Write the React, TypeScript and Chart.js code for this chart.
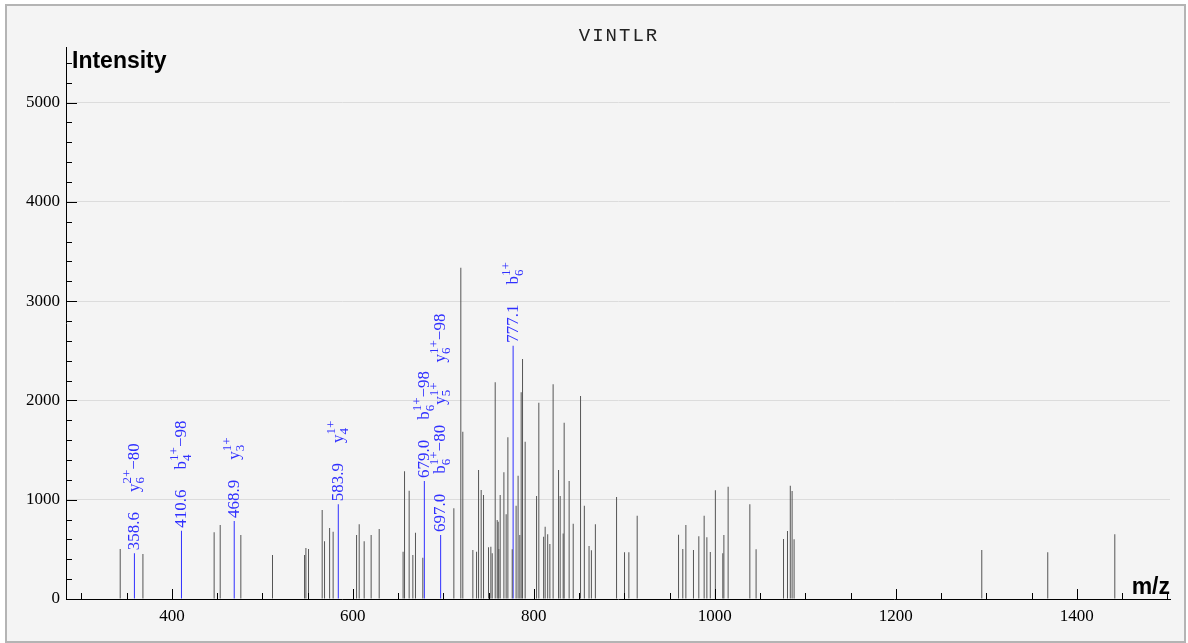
import React, { useEffect, useRef } from 'react';
import { Chart, registerables } from 'chart.js';

Chart.register(...registerables);

const TITLE = 'VINTLR';
const X_LABEL = 'm/z';
const Y_LABEL = 'Intensity';
const X_MIN = 283;
const X_MAX = 1503;
const Y_MIN = 0;
const Y_MAX = 5560;
const xTickValues = [400, 600, 800, 1000, 1200, 1400];
const yTickValues = [0, 1000, 2000, 3000, 4000, 5000];
const X_MINOR_STEP = 50;
const Y_MINOR_STEP = 200;

// unmatched peaks (grey)
const peakMz = [
  342.9, 368.0, 446.7, 453.4, 476.2, 511.2,
  546.6, 548.1, 551.0, 566.1, 568.7, 574.3, 578.2, 604.1, 607.0, 612.5, 620.2, 629.1,
  655.5, 657.1, 662.2, 666.3, 669.2, 677.3,
  711.6, 719.3, 721.5, 732.6, 736.7, 738.9, 741.8, 744.4, 749.9, 752.5, 754.0, 757.3,
  759.5, 760.6, 761.3, 762.8, 766.9, 769.4, 771.3, 776.1, 780.4, 782.6, 784.5, 786.0,
  787.5, 790.4, 803.0, 805.5, 810.8, 812.5, 815.3, 817.7, 821.3, 827.3, 829.1, 832.4,
  833.5, 839.0, 843.5, 851.6, 855.8, 861.0, 863.6, 868.0, 891.4, 900.2, 905.0, 914.2,
  959.9, 964.6, 968.0, 976.4, 982.3, 988.2, 991.2, 995.0, 1000.6, 1008.8, 1010.0, 1014.7,
  1038.7, 1045.6, 1075.9, 1080.3, 1083.4, 1085.4, 1087.6, 1295.0, 1367.9, 1442.0,
];
const peakIntensity = [
  503, 453, 672, 745, 645, 443,
  443, 513, 503, 896, 581, 715, 678, 645, 752, 581, 645, 705,
  476, 1286, 1091, 443, 668, 416,
  913, 3336, 1685, 493, 476, 1299, 1098, 1047, 520, 527, 460, 2182,
  796, 779, 503, 1047, 1276, 853, 1628, 500, 940, 1242, 645, 2082,
  2417, 1584, 1037, 1977, 627, 728, 652, 554, 2162, 1299, 1037, 661,
  1775, 1188, 758, 2044, 940, 534, 490, 752, 1027, 470, 470, 839,
  648, 503, 745, 493, 631, 839, 621, 473, 1095, 460, 645, 1131,
  954, 500, 604, 685, 1141, 1088, 601, 493, 470, 652,
];

// matched (annotated) peaks (blue)
const matchedMz = [358.6, 410.6, 468.9, 583.9, 679.0, 697.0, 777.1];
const matchedIntensity = [460, 688, 785, 954, 1188, 645, 2551];
// each ion: [ion letter, subscript, superscript, neutral loss]
const matchedIons = [
  [['y', '6', '2+', '−80']],
  [['b', '4', '1+', '−98']],
  [['y', '3', '1+', '']],
  [['y', '4', '1+', '']],
  [['b', '6', '1+', '−98']],
  [['b', '6', '1+', '−80'], ['y', '5', '1+', ''], ['y', '6', '1+', '−98']],
  [['b', '6', '1+', '']],
];

const GREY = '#555555';
const BLUE = 'rgb(48,48,255)';
const SERIF = '"Liberation Serif", "Times New Roman", serif';
const SANS = '"Liberation Sans", Arial, sans-serif';
const MONO = '"Liberation Mono", "Courier New", monospace';

const overlay = {
  id: 'overlay',
  afterDraw(chart: any) {
    const { ctx, chartArea: a } = chart;
    const xs = chart.scales.x;
    const ys = chart.scales.y;
    ctx.save();

    // inward tick marks
    ctx.strokeStyle = '#000';
    ctx.lineWidth = 1;
    ctx.beginPath();
    for (let v = Math.ceil(X_MIN / X_MINOR_STEP) * X_MINOR_STEP; v <= X_MAX; v += X_MINOR_STEP) {
      const px = Math.round(xs.getPixelForValue(v)) + 0.5;
      const len = xTickValues.includes(v) ? 10 : 6;
      ctx.moveTo(px, a.bottom);
      ctx.lineTo(px, a.bottom - len);
    }
    for (let v = Y_MIN + Y_MINOR_STEP; v <= Y_MAX; v += Y_MINOR_STEP) {
      const py = Math.round(ys.getPixelForValue(v)) + 0.5;
      const len = yTickValues.includes(v) ? 11 : 6;
      ctx.moveTo(a.left, py);
      ctx.lineTo(a.left + len, py);
    }
    ctx.stroke();

    // title
    ctx.fillStyle = '#222';
    ctx.font = `19px ${MONO}`;
    ctx.textAlign = 'center';
    ctx.textBaseline = 'alphabetic';
    try {
      (ctx as any).letterSpacing = '2px';
    } catch (e) {}
    ctx.fillText(TITLE, (a.left + a.right) / 2 + 1, a.top - 6);
    try {
      (ctx as any).letterSpacing = '0px';
    } catch (e) {}

    // axis titles
    ctx.fillStyle = '#000';
    ctx.font = `bold 23px ${SANS}`;
    ctx.textAlign = 'left';
    ctx.fillText(Y_LABEL, a.left + 6, a.top + 21);
    ctx.textAlign = 'right';
    ctx.fillText(X_LABEL, a.right, a.bottom - 5);

    // annotations
    ctx.fillStyle = BLUE;
    ctx.textAlign = 'left';
    const BIG = 17;
    const SMALL = 13;
    const GAP = 20;
    matchedMz.forEach((mz, i) => {
      const px = xs.getPixelForValue(mz);
      const py = ys.getPixelForValue(matchedIntensity[i]);
      ctx.save();
      ctx.translate(px, py - 3);
      ctx.rotate(-Math.PI / 2);
      let u = 0;
      ctx.font = `${BIG}px ${SERIF}`;
      const num = mz.toFixed(1);
      ctx.fillText(num, u, 4.5);
      u += ctx.measureText(num).width + GAP;
      matchedIons[i].forEach((ion) => {
        const [letter, sub, sup, loss] = ion;
        ctx.font = `${BIG}px ${SERIF}`;
        ctx.fillText(letter, u, 4.5);
        u += ctx.measureText(letter).width;
        ctx.font = `${SMALL}px ${SERIF}`;
        ctx.fillText(sup, u, -3);
        ctx.fillText(sub, u, 9.5);
        u += Math.max(ctx.measureText(sup).width, ctx.measureText(sub).width);
        if (loss) {
          ctx.font = `${BIG}px ${SERIF}`;
          ctx.fillText(loss, u, 4.5);
          u += ctx.measureText(loss).width;
        }
        u += GAP;
      });
      ctx.restore();
    });
    ctx.restore();
  },
};

export default function App() {
  const ref = useRef<HTMLCanvasElement>(null);
  useEffect(() => {
    const chart = new Chart(ref.current as HTMLCanvasElement, {
      type: 'bar',
      data: {
        datasets: [
          {
            data: peakMz.map((m, i) => ({ x: m, y: peakIntensity[i] })),
            backgroundColor: GREY,
            barThickness: 1,
            grouped: false,
            inflateAmount: 0,
            borderWidth: 0,
          } as any,
          {
            data: matchedMz.map((m, i) => ({ x: m, y: matchedIntensity[i] })),
            backgroundColor: BLUE,
            barThickness: 1,
            grouped: false,
            inflateAmount: 0,
            borderWidth: 0,
          } as any,
        ],
      },
      options: {
        animation: false,
        responsive: false,
        maintainAspectRatio: false,
        layout: { padding: { top: 41, right: 14, bottom: 0, left: 0 } },
        plugins: {
          legend: { display: false },
          tooltip: { enabled: false },
          title: { display: false },
        },
        scales: {
          x: {
            type: 'linear',
            min: X_MIN,
            max: X_MAX,
            offset: false,
            grid: { display: false, drawTicks: false, offset: false },
            border: { display: true, color: '#000', width: 1 },
            ticks: {
              font: { family: SERIF, size: 17 },
              color: '#000',
              padding: 7,
              autoSkip: false,
              maxRotation: 0,
              callback: (v: any) => String(v),
            },
            afterBuildTicks: (s: any) => {
              s.ticks = xTickValues.map((v) => ({ value: v }));
            },
            afterFit: (s: any) => {
              s.height = 42;
            },
          },
          y: {
            type: 'linear',
            min: Y_MIN,
            max: Y_MAX,
            grid: {
              drawTicks: false,
              color: (c: any) => (c.tick && c.tick.value === 0 ? 'rgba(0,0,0,0)' : '#dcdcdc'),
              lineWidth: 1,
            },
            border: { display: true, color: '#000', width: 1 },
            ticks: {
              font: { family: SERIF, size: 17 },
              color: '#000',
              padding: 6,
              autoSkip: false,
              callback: (v: any) => String(v),
            },
            afterBuildTicks: (s: any) => {
              s.ticks = yTickValues.map((v) => ({ value: v }));
            },
            afterFit: (s: any) => {
              s.width = 59;
            },
          },
        },
      } as any,
      plugins: [overlay],
    });
    return () => chart.destroy();
  }, []);
  return (
    <div
      style={{
        position: 'absolute',
        left: 5,
        top: 4,
        width: 1177,
        height: 635,
        border: '2px solid #b4b4b4',
        background: '#f4f4f4',
      }}
    >
      <canvas ref={ref} width={1177} height={635} style={{ display: 'block', width: 1177, height: 635 }} />
    </div>
  );
}
